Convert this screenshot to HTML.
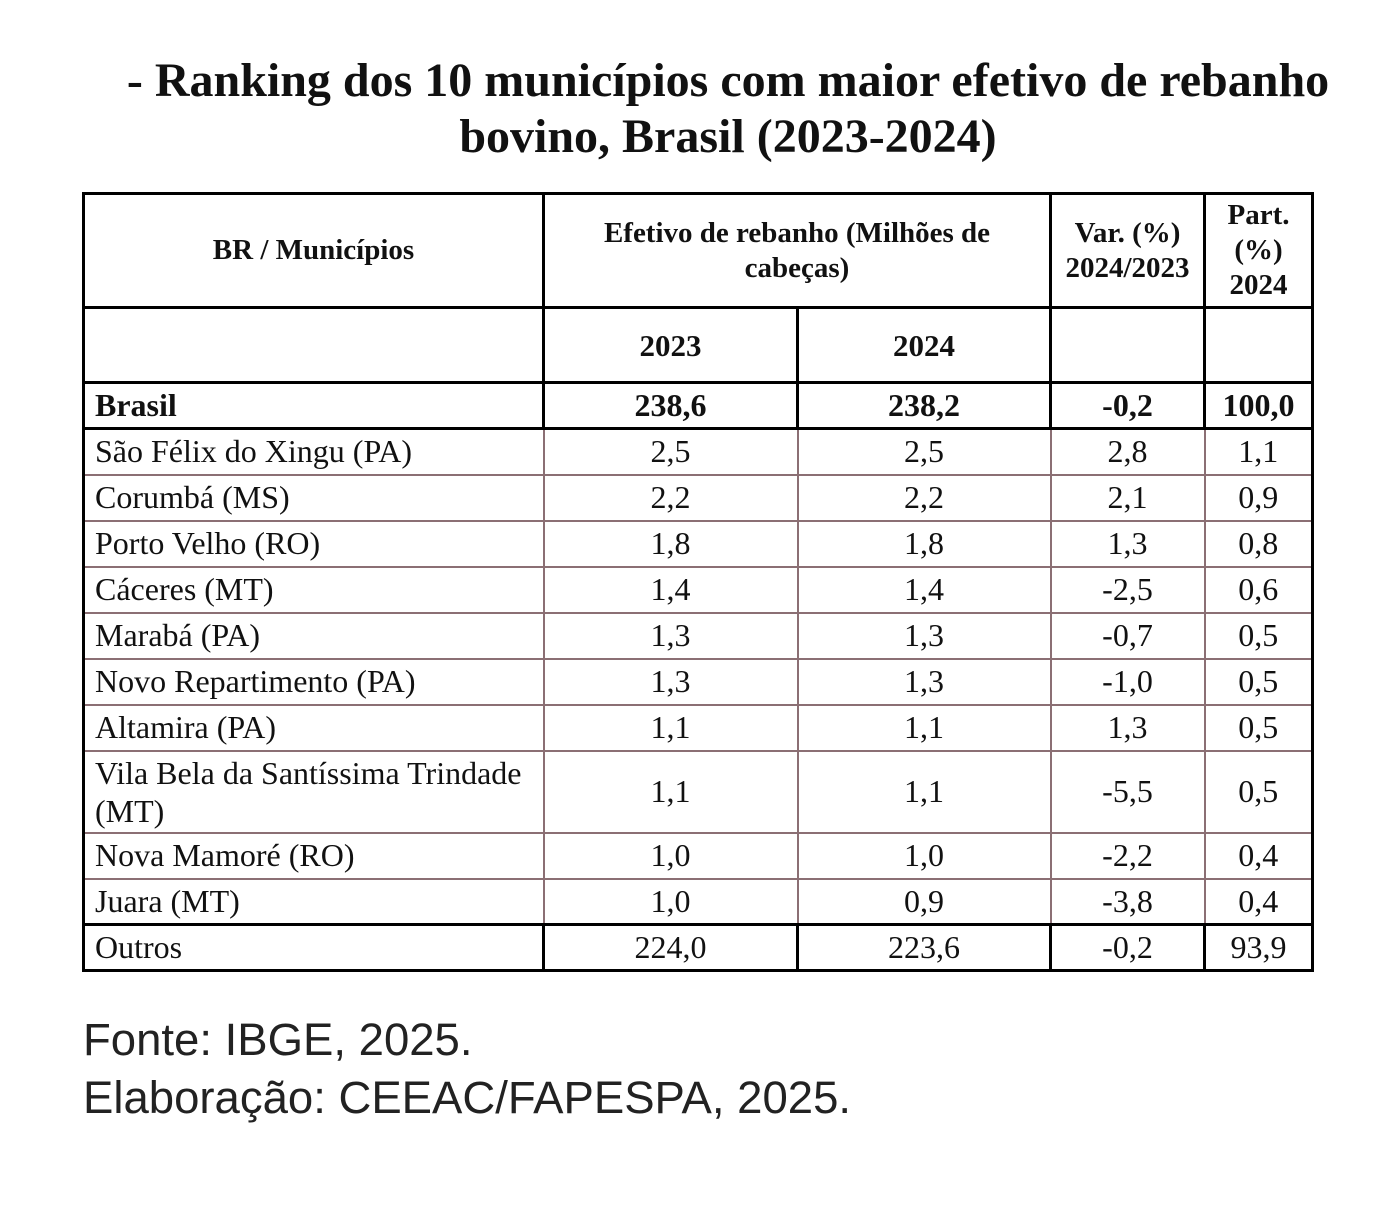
<!DOCTYPE html>
<html><head><meta charset="utf-8"><style>
body{margin:0;width:1400px;height:1222px;background:#fff;position:relative;font-family:"Liberation Serif",serif;color:#111}
.title{position:absolute;left:78px;width:1300px;top:53px;text-align:center;font-weight:bold;font-size:48px;line-height:56px}
table{position:absolute;left:82px;top:192px;border-collapse:collapse;table-layout:fixed;font-size:32px}
td{border:2px solid #8b6f74;text-align:center;padding:0;vertical-align:middle;white-space:nowrap}
td.l{text-align:left;padding-left:10px}
tr.h td{border:3px solid #000;font-weight:bold;font-size:29px;line-height:35px}
tr.h2 td{font-size:31px}
tr.b td{border:3px solid #000;font-weight:bold}
tr.o td{border:3px solid #000}
td:first-child{border-left:3px solid #000}
td:last-child{border-right:3px solid #000}
.foot{position:absolute;left:83px;top:1011px;font-family:"Liberation Sans",sans-serif;font-size:45.5px;line-height:58px;color:#222}
</style></head><body>
<div class="title">- Ranking dos 10 municípios com maior efetivo de rebanho<br>bovino, Brasil (2023-2024)</div>
<table>
<colgroup><col style="width:460px"><col style="width:254px"><col style="width:253px"><col style="width:154px"><col style="width:108px"></colgroup>
<tr class="h" style="height:114px"><td>BR / Municípios</td><td colspan="2">Efetivo de rebanho (Milhões de<br>cabeças)</td><td>Var. (%)<br>2024/2023</td><td>Part.<br>(%)<br>2024</td></tr>
<tr class="h h2" style="height:75px"><td></td><td>2023</td><td>2024</td><td></td><td></td></tr>
<tr class="b" style="height:46px"><td class="l">Brasil</td><td>238,6</td><td>238,2</td><td>-0,2</td><td>100,0</td></tr>
<tr style="height:46px"><td class="l">São Félix do Xingu (PA)</td><td>2,5</td><td>2,5</td><td>2,8</td><td>1,1</td></tr>
<tr style="height:46px"><td class="l">Corumbá (MS)</td><td>2,2</td><td>2,2</td><td>2,1</td><td>0,9</td></tr>
<tr style="height:46px"><td class="l">Porto Velho (RO)</td><td>1,8</td><td>1,8</td><td>1,3</td><td>0,8</td></tr>
<tr style="height:46px"><td class="l">Cáceres (MT)</td><td>1,4</td><td>1,4</td><td>-2,5</td><td>0,6</td></tr>
<tr style="height:46px"><td class="l">Marabá (PA)</td><td>1,3</td><td>1,3</td><td>-0,7</td><td>0,5</td></tr>
<tr style="height:46px"><td class="l">Novo Repartimento (PA)</td><td>1,3</td><td>1,3</td><td>-1,0</td><td>0,5</td></tr>
<tr style="height:46px"><td class="l">Altamira (PA)</td><td>1,1</td><td>1,1</td><td>1,3</td><td>0,5</td></tr>
<tr style="height:82px"><td class="l" style="line-height:38px">Vila Bela da Santíssima Trindade<br>(MT)</td><td>1,1</td><td>1,1</td><td>-5,5</td><td>0,5</td></tr>
<tr style="height:46px"><td class="l">Nova Mamoré (RO)</td><td>1,0</td><td>1,0</td><td>-2,2</td><td>0,4</td></tr>
<tr style="height:46px"><td class="l">Juara (MT)</td><td>1,0</td><td>0,9</td><td>-3,8</td><td>0,4</td></tr>
<tr class="o" style="height:46px"><td class="l">Outros</td><td>224,0</td><td>223,6</td><td>-0,2</td><td>93,9</td></tr>
</table>
<div class="foot">Fonte: IBGE, 2025.<br>Elaboração: CEEAC/FAPESPA, 2025.</div>
</body></html>
